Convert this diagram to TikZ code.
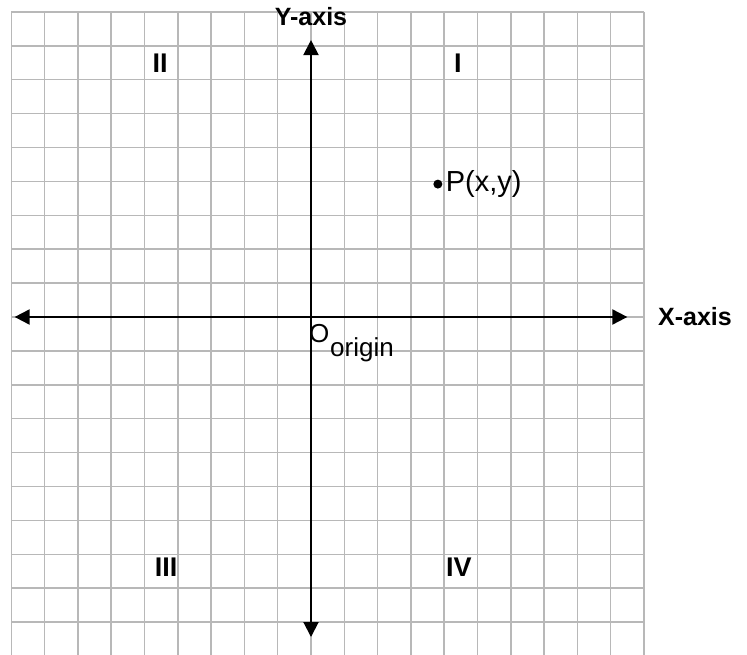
\documentclass[tikz,border=0pt]{standalone}
\usepackage{fontspec}
\setmainfont{Liberation Sans}
\definecolor{gridline}{HTML}{B8B8B8}
\definecolor{ink}{HTML}{000000}
\usetikzlibrary{arrows.meta, positioning}
\tikzset{
  axis/.style={{Triangle[length=15pt,width=15pt]}-{Triangle[length=15pt,width=15pt]}, line width=2pt, color=ink},
  axlbl/.style={font=\fontsize{25}{30}\selectfont\bfseries, color=ink, inner sep=0pt},
  quad/.style={font=\fontsize{27}{30}\selectfont\bfseries, color=ink, inner sep=0pt},
  txt/.style={font=\fontsize{26}{30}\selectfont, color=ink, inner sep=0pt},
}

\begin{document}
\begin{tikzpicture}[x=33.3pt,y=33.9pt]
\useasboundingbox (-311pt,317pt) rectangle (436pt,-338pt);
\draw[gridline, line width=1.5pt, step=1] (-9,-10) grid (10,9);
\coordinate (xl) at (-8.9,0); \coordinate (xr) at (9.5,0);
\coordinate (yb) at (0,-9.44); \coordinate (yt) at (0,8.17);
\draw[axis] (xl)--(xr);
\draw[axis] (yb)--(yt);
\node[axlbl] (ylbl) at (0,8.85) {Y-axis};
\node[axlbl] (xlbl) at (11.53,0) {X-axis};
\node[quad] (q1) at (4.41,7.49) {I};
\node[quad] (q2) at (-4.53,7.49) {II};
\node[quad] (q3) at (-4.35,-7.37) {III};
\node[quad] (q4) at (4.44,-7.37) {IV};
\node[txt, anchor=base west] (O) at (-0.06,-0.74) {O};
\node[txt, anchor=base west] (orig) at (0.57,-1.18) {origin};
\node[circle, fill=ink, inner sep=0pt, minimum size=9pt] (P) at (3.81,3.92) {};
\node[txt, font=\fontsize{29}{32}\selectfont, right=3pt of P] (Plbl) {P(x,y)};
\end{tikzpicture}
\end{document}
